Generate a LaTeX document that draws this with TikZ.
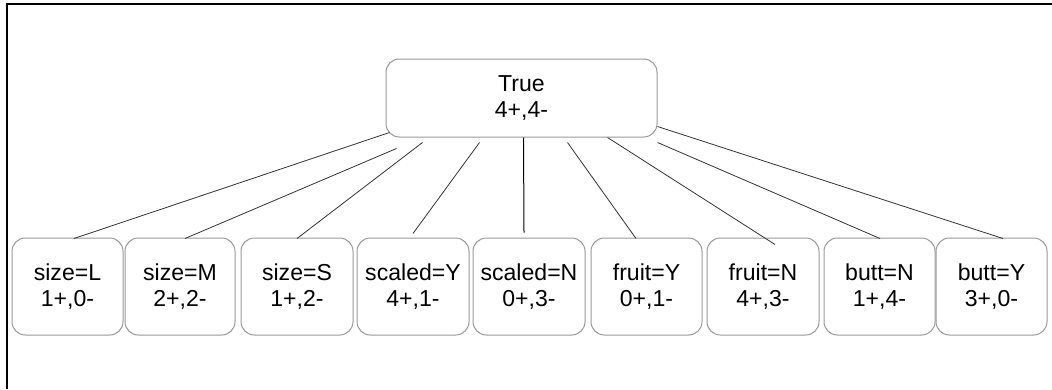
\documentclass[tikz,border=0pt]{standalone}
\usepackage{fontspec}
\setmainfont{Liberation Sans}
\begin{document}
\begin{tikzpicture}[x=0.75pt,y=-0.75pt,
  box/.style={draw=black!40,line width=0.75pt,rounded corners=10pt,fill=white,
    align=center,inner sep=0pt,font=\fontsize{17.3pt}{19.5pt}\selectfont,
    minimum height=72.75pt},
  conn/.style={draw=black!80,line width=0.6pt}]
\useasboundingbox (0,0) rectangle (1052,389);
\draw[black,line width=1.5pt] (1052,4) -- (7,4) -- (7,389);
\node[box,minimum width=203.25pt,minimum height=58.5pt] (root) at (521.5,98) {True\\4+,4-};
\node[box,minimum width=83.25pt] (sL) at (67.5,286.5) {size=L\\1+,0-};
\node[box,minimum width=82.5pt] (sM) at (180,286.5) {size=M\\2+,2-};
\node[box,minimum width=84pt] (sS) at (297,286.5) {size=S\\1+,2-};
\node[box,minimum width=84pt] (scY) at (413,286.5) {scaled=Y\\4+,1-};
\node[box,minimum width=84pt] (scN) at (529,286.5) {scaled=N\\0+,3-};
\node[box,minimum width=83.25pt] (fY) at (646.5,286.5) {fruit=Y\\0+,1-};
\node[box,minimum width=84pt] (fN) at (763,286.5) {fruit=N\\4+,3-};
\node[box,minimum width=83.25pt] (bN) at (879.5,286.5) {butt=N\\1+,4-};
\node[box,minimum width=83.25pt] (bY) at (991.5,286.5) {butt=Y\\3+,0-};
\draw[conn] ([shift={(4,74)}]root.north west) -- ([shift={(6.5,1)}]sL.north);
\draw[conn] ([shift={(11,90)}]root.north west) -- ([shift={(5,1)}]sM.north);
\draw[conn] ([shift={(37,84)}]root.north west) -- ([shift={(0,1)}]sS.north);
\draw[conn] ([shift={(94,84)}]root.north west) -- ([shift={(0,-4)}]scY.north);
\draw[conn,draw=black,line width=0.75pt] ([shift={(138,79)}]root.north west) -- ([shift={(-5,-5)}]scN.north);
\draw[conn] ([shift={(182,84)}]root.north west) -- ([shift={(-10.5,1)}]fY.north);
\draw[conn] ([shift={(222,79)}]root.north west) -- ([shift={(12,7)}]fN.north);
\draw[conn] ([shift={(272,84)}]root.north west) -- ([shift={(0.5,1)}]bN.north);
\draw[conn] ([shift={(272,68)}]root.north west) -- ([shift={(11.5,1)}]bY.north);
\end{tikzpicture}
\end{document}
